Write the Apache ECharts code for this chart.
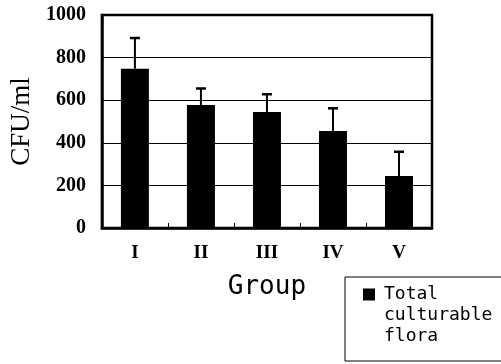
<!DOCTYPE html>
<html>
<head>
<meta charset="utf-8">
<script src="https://cdn.jsdelivr.net/npm/echarts@6/dist/echarts.min.js"></script>
<style>
html,body{margin:0;padding:0;background:#fff;}
#chart{width:501px;height:364px;}
</style>
</head>
<body>
<div id="chart"></div>
<script>
const categories = ['I', 'II', 'III', 'IV', 'V'];
const meanValues = [748, 577, 545, 455, 244];
const errorValues = [144, 78, 83, 107, 114];
const yTicks = [0, 200, 400, 600, 800, 1000];
const seriesName = 'Total culturable flora';

const chart = echarts.init(document.getElementById('chart'), null, {renderer: 'canvas'});

const errData = categories.map((c, i) => [i, meanValues[i], meanValues[i] + errorValues[i]]);

const option = {
  animation: false,
  backgroundColor: '#fff',
  grid: {
    left: 100, top: 15, right: 69, bottom: 136,
    show: true, borderColor: '#000', borderWidth: 2.5, backgroundColor: 'transparent'
  },
  legend: {
    left: 345, top: 277,
    padding: [7, 40, 14, 18],
    borderColor: '#000', borderWidth: 1, borderRadius: 0,
    itemWidth: 12, itemHeight: 54, itemGap: 0,
    icon: 'path://M0,0 H12 V12 H0 Z M0,54 L0.01,54 L0,54 Z',
    data: [seriesName],
    formatter: () => 'Total\nculturable\nflora',
    textStyle: {fontFamily: 'DejaVu Sans Mono', fontSize: 18, lineHeight: 21, color: '#000', padding: [0, 0, 0, 4]}
  },
  xAxis: {
    type: 'category',
    data: categories,
    name: 'Group',
    nameLocation: 'middle',
    nameGap: 46,
    nameTextStyle: {fontFamily: 'DejaVu Sans Mono', fontSize: 26, color: '#000'},
    axisLine: {lineStyle: {color: '#000', width: 2.5}},
    axisTick: {show: true, inside: true, length: 5, lineStyle: {color: '#000', width: 1}},
    axisLabel: {margin: 16, fontFamily: 'Liberation Serif', fontWeight: 'bold', fontSize: 19, color: '#000'}
  },
  yAxis: {
    type: 'value',
    min: yTicks[0], max: yTicks[yTicks.length - 1], interval: 200,
    name: 'CFU/ml',
    nameLocation: 'middle',
    nameGap: 62,
    nameTextStyle: {fontFamily: 'Liberation Serif', fontSize: 27, color: '#000'},
    axisLine: {show: true, lineStyle: {color: '#000', width: 2.5}},
    axisTick: {show: false},
    splitLine: {lineStyle: {color: '#000', width: 1}},
    axisLabel: {margin: 16, fontFamily: 'Liberation Serif', fontWeight: 'bold', fontSize: 20, color: '#000',
      formatter: v => String(v)}
  },
  series: [
    {
      name: seriesName,
      type: 'bar',
      data: meanValues,
      barWidth: 28,
      itemStyle: {color: '#000'}
    },
    {
      type: 'custom',
      name: 'err',
      data: errData,
      z: 5,
      renderItem: function (params, api) {
        const x = api.value(0);
        const p0 = api.coord([x, api.value(1)]);
        const p1 = api.coord([x, api.value(2)]);
        const half = 5;
        return {
          type: 'group',
          children: [
            {type: 'line', shape: {x1: p0[0], y1: p0[1], x2: p1[0], y2: p1[1]}, style: {stroke: '#000', lineWidth: 2}},
            {type: 'line', shape: {x1: p1[0] - half, y1: p1[1], x2: p1[0] + half, y2: p1[1]}, style: {stroke: '#000', lineWidth: 2.5}}
          ]
        };
      }
    }
  ]
};
chart.setOption(option);
</script>
</body>
</html>
